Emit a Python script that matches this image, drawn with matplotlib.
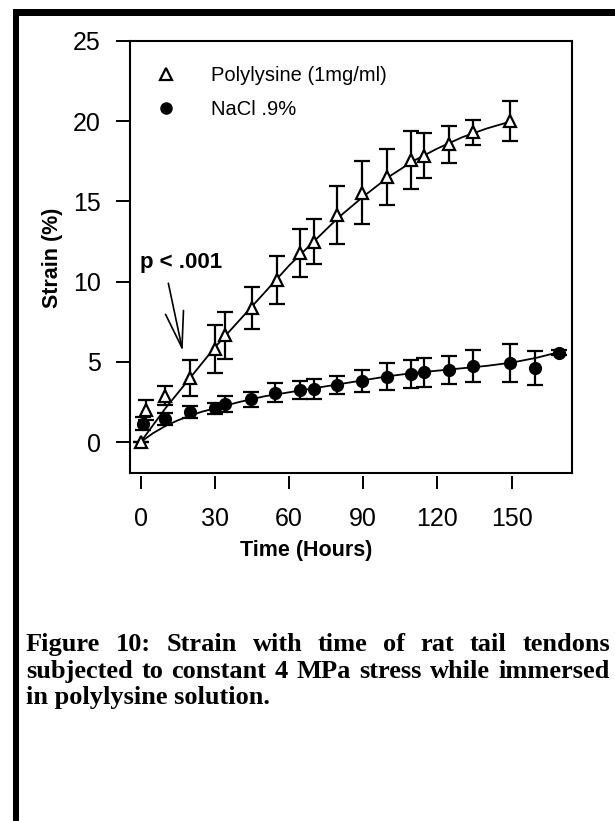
import matplotlib
matplotlib.use('Agg')
import matplotlib.pyplot as plt
from matplotlib.patches import Rectangle
from matplotlib.lines import Line2D

# Polylysine (1mg/ml) - open triangles
hours_poly = [0, 2, 10, 20, 30, 34, 45, 55, 64.5, 70, 79.5, 89.5, 99.5, 109.5, 114.5, 124.5, 134.5, 149.5]
strain_poly = [0, 2.0, 2.9, 4.0, 5.8, 6.65, 8.35, 10.1, 11.8, 12.5, 14.15, 15.55, 16.5, 17.6, 17.85, 18.55, 19.3, 20.0]
err_poly = [0, 0.6, 0.6, 1.1, 1.5, 1.45, 1.3, 1.5, 1.5, 1.4, 1.8, 1.95, 1.75, 1.8, 1.4, 1.15, 0.8, 1.25]

# NaCl .9% - filled circles
hours_nacl = [1, 10, 20, 30, 34, 44.5, 54.5, 64.5, 70, 79.5, 89.5, 99.5, 109.5, 114.5, 124.5, 134.5, 149.5, 159.5, 169]
strain_nacl = [1.15, 1.45, 1.85, 2.1, 2.35, 2.68, 3.07, 3.24, 3.3, 3.55, 3.82, 4.07, 4.24, 4.35, 4.49, 4.74, 4.94, 4.63, 5.57]
err_nacl = [0.4, 0.37, 0.37, 0.35, 0.5, 0.47, 0.6, 0.55, 0.6, 0.55, 0.7, 0.85, 0.9, 0.9, 0.88, 1.0, 1.2, 1.05, 0.15]

# fitted curves
fit_h_poly = [0, 10, 20, 30, 40, 50, 60, 70, 80, 90, 100, 110, 120, 130, 140, 150]
fit_poly = [0, 2.1, 4.0, 5.9, 7.6, 9.3, 11.0, 12.5, 14.0, 15.3, 16.5, 17.5, 18.3, 19.0, 19.55, 20.0]
fit_h_nacl = [0, 5, 10, 15, 20, 25, 30, 40, 50, 60, 70, 80, 90, 100, 110, 120, 130, 140, 150, 160, 169]
fit_nacl = [0, 0.55, 1.0, 1.35, 1.65, 1.9, 2.1, 2.5, 2.85, 3.1, 3.35, 3.6, 3.85, 4.1, 4.3, 4.45, 4.6, 4.75, 4.95, 5.25, 5.6]

x_ticks = [0, 30, 60, 90, 120, 150]
y_ticks = [0, 5, 10, 15, 20, 25]

caption_lines = [
    "Figure 10: Strain with time of rat tail tendons",
    "subjected to constant 4 MPa stress while immersed",
    "in polylysine solution.",
]

plt.rcParams['font.family'] = ['Liberation Sans', 'DejaVu Sans']

W, H = 615, 821
fig = plt.figure(figsize=(W / 100, H / 100), dpi=100)
ax = fig.add_axes([130 / W, 1 - 473 / H, 442 / W, 432 / H])

# fit lines
ax.plot(fit_h_nacl, fit_nacl, color='black', lw=1.3, zorder=2)
ax.plot(fit_h_poly, fit_poly, color='black', lw=1.3, zorder=2)

# data with error bars
ax.errorbar(hours_nacl, strain_nacl, yerr=err_nacl, fmt='o', color='black',
            markersize=8.5, capsize=5.8, elinewidth=1.6, capthick=1.6, zorder=3)
ax.errorbar(hours_poly, strain_poly, yerr=err_poly, fmt='^', color='black',
            mfc='white', mec='black', mew=1.6, markersize=9, capsize=5.8,
            elinewidth=1.6, capthick=1.6, zorder=4)

ax.set_xlim(-4.3, 174.4)
ax.set_ylim(-1.93, 25)

for s in ax.spines.values():
    s.set_linewidth(1.5)

ax.set_yticks(y_ticks)
ax.tick_params(axis='y', direction='out', length=10, width=1.4, pad=11, labelsize=18)

# x ticks sit a little below the frame
ax.set_xticks([])
sec = ax.secondary_xaxis('bottom')
sec.spines['bottom'].set_position(('outward', 2.5))
sec.spines['bottom'].set_visible(False)
sec.set_xticks(x_ticks)
sec.tick_params(axis='x', direction='out', length=9, width=1.4, pad=13, labelsize=18)

ax.set_xlabel('Time (Hours)', fontsize=15.5, fontweight='bold')
ax.xaxis.set_label_coords(0.398, -0.155)
ax.set_ylabel('Strain (%)', fontsize=15.5, fontweight='bold')
ax.yaxis.set_label_coords(-0.152, 0.498)

# legend (markers only)
leg_handles = [
    Line2D([], [], ls='none', marker='^', mfc='white', mec='black', mew=1.6, markersize=8),
    Line2D([], [], ls='none', marker='o', color='black', markersize=8),
]
ax.legend(leg_handles, ['Polylysine (1mg/ml)', 'NaCl .9%'], loc='upper left',
          bbox_to_anchor=(0.005, 0.985), frameon=False, fontsize=14.5,
          handlelength=1.6, handletextpad=1.4, labelspacing=0.75)

# p-value annotation
ax.text(-0.3, 11.18, 'p < .001', fontsize=16, fontweight='bold', ha='left', va='center')
ax.annotate('', xy=(17.0, 5.67), xytext=(11.2, 9.9),
            arrowprops=dict(arrowstyle='->, head_length=1.3, head_width=0.33',
                            lw=1.2, color='black', mutation_scale=20, shrinkA=0, shrinkB=0))

# page border
fig.add_artist(Rectangle((12.5 / W, 0), 6 / W, (H - 9.5) / H, transform=fig.transFigure,
                         color='black', lw=0))
fig.add_artist(Rectangle((12.5 / W, (H - 16) / H), 1, 6.5 / H, transform=fig.transFigure,
                         color='black', lw=0))

# caption, justified like the source page
renderer = fig.canvas.get_renderer()
left, right = 26, 610
baselines = [651, 677.5, 704]
cap_font = dict(family=['Liberation Serif', 'DejaVu Serif'], fontweight='bold', fontsize=19)
for i, line in enumerate(caption_lines):
    y = 1 - baselines[i] / H
    if i == len(caption_lines) - 1:
        fig.text(left / W, y, line, ha='left', va='baseline', **cap_font)
        continue
    words = line.split()
    texts = [fig.text(0, y, w, ha='left', va='baseline', **cap_font) for w in words]
    widths = [t.get_window_extent(renderer).width for t in texts]
    gap = (right - left - sum(widths)) / (len(words) - 1)
    x = left
    for t, w in zip(texts, widths):
        t.set_x(x / W)
        x += w + gap

fig.savefig('out.png', dpi=100)
